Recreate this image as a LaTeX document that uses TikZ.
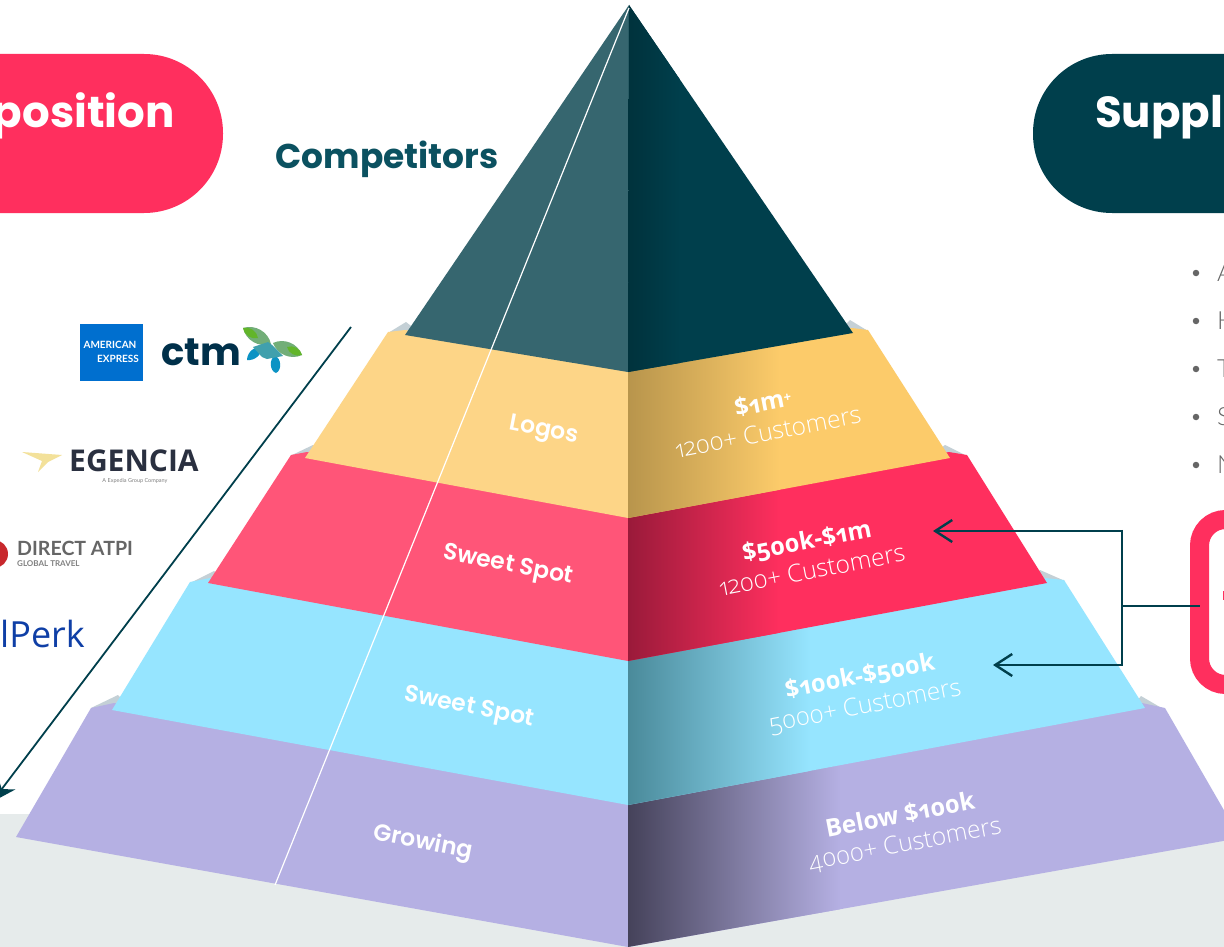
\documentclass[tikz,border=0pt]{standalone}
\usepackage{fontspec}
\usetikzlibrary{arrows.meta}
\setmainfont{Lato}
\newfontfamily\lightf{Lato Light}
\newfontfamily\headf{Poppins}
\newfontfamily\labf{Poppins SemiBold}
\newfontfamily\numf[Numbers=OldStyle]{Open Sans}
\newfontfamily\numl[Numbers=OldStyle]{Open Sans Light}
\definecolor{teal}{HTML}{003F4C}
\definecolor{tealD}{HTML}{00323C}
\definecolor{tealL}{HTML}{36666F}
\definecolor{tealT}{HTML}{0B5160}
\definecolor{hot}{HTML}{FF2F5E}
\definecolor{hotL}{HTML}{FF5578}
\definecolor{hotD}{HTML}{9A1A3A}
\definecolor{yelL}{HTML}{FDD587}
\definecolor{yelR}{HTML}{FCCB6A}
\definecolor{yelD}{HTML}{B8954C}
\definecolor{bluL}{HTML}{96E5FF}
\definecolor{bluD}{HTML}{4A8A9A}
\definecolor{pur}{HTML}{B5B0E3}
\definecolor{purD}{HTML}{45425A}
\definecolor{floorc}{HTML}{E6EBEB}
\definecolor{notch}{HTML}{C4D0D6}
\definecolor{bodyg}{HTML}{666666}
\definecolor{amex}{HTML}{006FCF}
\definecolor{ctmc}{HTML}{00304A}
\definecolor{leafg}{HTML}{62B52A}
\definecolor{leafb}{HTML}{0C93C4}
\definecolor{leafm}{HTML}{72AE78}
\definecolor{leaft}{HTML}{40A0AD}
\definecolor{swoosh}{HTML}{F3E19A}
\definecolor{egc}{HTML}{2A3040}
\definecolor{atpi}{HTML}{C8282D}
\definecolor{perkc}{HTML}{0F3FA6}
\tikzset{
  x=1pt,y=-1pt,
  leftlab/.style={text=white,font=\labf\fontsize{23.5}{23.5}\selectfont,rotate=-11,inner sep=0},
  toplab/.style={text=white,font=\numf\bfseries\fontsize{24.5}{24.5}\selectfont,rotate=11,inner sep=0},
  sublab/.style={text=white,font=\numl\fontsize{24.5}{24.5}\selectfont,rotate=11,inner sep=0},
  link/.style={draw=teal,line width=2.4pt},
  barb/.style={-{Straight Barb[length=17pt,width=22pt,line width=2.4pt]}},
  pilltext/.style={text=white,font=\headf\bfseries\fontsize{43.5}{43.5}\selectfont,inner sep=0},
  bullet/.style={circle,fill=bodyg,minimum size=6.5pt,inner sep=0},
  clipped/.style={text=bodyg,font=\lightf\fontsize{25}{25}\selectfont,inner sep=0,anchor=west},
  notchf/.style={fill=notch},
}
\newcommand{\sidegrad}[4]{%
  \begin{scope}\clip #1;\shade[left color=#2,right color=#3] (628,0) rectangle (#4,947);\end{scope}}
\newcommand{\leaf}[4]{\fill[#3] (#1) to[bend left=#4] (#2) to[bend left=#4] (#1);}
\begin{document}
\begin{tikzpicture}
\clip (0,0) rectangle (1224,947);
\fill[white] (0,0) rectangle (1224,947);
\fill[floorc] (0,814) rectangle (1224,947);

% pills
\fill[hot,rounded corners=79pt] (-160,54) rectangle (223,213);
\node[pilltext,anchor=base east] (pos) at (175,128) {position};
\fill[teal,rounded corners=79pt] (1033,54) rectangle (1400,213);
\node[pilltext,anchor=base west] (sup) at (1095,128) {Suppl};
\node[text=tealT,font=\headf\bfseries\fontsize{34.4}{34.4}\selectfont,inner sep=0] (comp) at (387,159) {Competitors};

% notches
\fill[notchf] (388,333) -- (406,322) -- (420,333) -- cycle;
\fill[notchf] (868,331) -- (850,320) -- (838,333) -- cycle;
\fill[notchf] (290,456) -- (313,445) -- (325,456) -- cycle;
\fill[notchf] (967,456) -- (945,445) -- (930,456) -- cycle;
\fill[notchf] (190,583) -- (214,571) -- (228,584) -- cycle;
\fill[notchf] (1065,581) -- (1040,570) -- (1028,584) -- cycle;
\fill[notchf] (91,708) -- (118,695) -- (130,708) -- cycle;
\fill[notchf] (1165,710) -- (1141,696) -- (1130,710) -- cycle;

% tiers, bottom first; each top edge runs on beneath the tier above it
\fill[pur] (91,708) -- (114,703) -- (628,795) -- (628,947) -- (16,837) -- cycle;
\fill[pur] (628,795) -- (1142,703) -- (1165,708) -- (1240,838) -- (628,947) -- cycle;
\sidegrad{(628,795) -- (1142,703) -- (1165,708) -- (1240,838) -- (628,947) -- cycle}{purD}{pur}{840}
\fill[bluL] (190,582) -- (210,578) -- (628,650) -- (628,805) -- (112,710) -- cycle;
\fill[bluL] (628,650) -- (1045,578) -- (1064,580) -- (1145,708) -- (628,805) -- cycle;
\begin{scope}\clip (628,650) -- (1045,578) -- (1064,580) -- (1145,708) -- (628,805) -- cycle;
\shade[left color=bluD,middle color=bluD!35!bluL,right color=bluL] (628,0) rectangle (810,947);\end{scope}
\fill[hotL] (291,455) -- (307,452) -- (628,508) -- (628,661) -- (208,583) -- cycle;
\fill[hot] (628,508) -- (949,452) -- (967,455) -- (1047,583) -- (628,661) -- cycle;
\sidegrad{(628,508) -- (949,452) -- (967,455) -- (1047,583) -- (628,661) -- cycle}{hotD}{hot}{780}
\fill[yelL] (388,332) -- (405,330) -- (628,362) -- (628,518) -- (305,458) -- cycle;
\fill[yelR] (628,362) -- (852,328) -- (868,330) -- (950,458) -- (628,518) -- cycle;
\sidegrad{(628,362) -- (852,328) -- (868,330) -- (950,458) -- (628,518) -- cycle}{yelD}{yelR}{780}
\fill[tealL] (629,5) -- (628,372) -- (405,335) -- cycle;
\fill[teal] (629,5) -- (853,333) -- (628,372) -- cycle;
\begin{scope}\clip (629,5) -- (853,333) -- (628,372) -- cycle;
\shade[left color=tealD,right color=teal] (628,0) rectangle (680,380);\end{scope}

% tier labels
\node[leftlab] (l1) at (544,431) {Logos};
\node[leftlab] (l2) at (508,566) {Sweet Spot};
\node[leftlab] (l3) at (469,708) {Sweet Spot};
\node[leftlab] (l4) at (423,843) {Growing};
\node[toplab] (r1) at (763,403) {\$1m\raisebox{5pt}{\fontsize{13}{13}\selectfont+}};
\node[sublab] (s1) at (768,432) {1200+ Customers};
\node[toplab] (r2) at (807,542) {\$500k-\$1m};
\node[sublab] (s2) at (812,570) {1200+ Customers};
\node[toplab] (r3) at (860,677) {\$100k-\$500k};
\node[sublab] (s3) at (865,707) {5000+ Customers};
\node[toplab] (r4) at (900,815) {Below \$100k};
\node[sublab] (s4) at (905,845) {4000+ Customers};

% thin white rule and long arrow
\coordinate (apex) at (629,8);
\coordinate (foot) at (275,885);
\draw[white,line width=1.2pt] (apex) -- (foot);
\coordinate (arrS) at (351,327);
\coordinate (arrE) at (-8,802);
\draw[teal,line width=1.8pt,-{Stealth[length=24pt,width=22pt]}] (arrS) -- (arrE);

% logos
\fill[hot] (1222.5,591) rectangle (1224,600);
\fill[amex] (80,324) rectangle (143,381);
\node[text=white,font=\bfseries\fontsize{10}{10}\selectfont,inner sep=0] (amex1) at (110,345) {AMERICAN};
\node[text=white,font=\bfseries\fontsize{10}{10}\selectfont,inner sep=0] (amex2) at (118,359) {EXPRESS};
\node[text=ctmc,inner sep=0,anchor=base west,font=\headf\bfseries\fontsize{38.5}{38.5}\selectfont] (ctm) at (161,365) {ctm};
\leaf{243,328}{271,344}{leafm}{48}
\leaf{243,328}{258,338}{leafg}{48}
\leaf{302,355}{273,343}{leafm}{48}
\leaf{302,355}{287,347}{leafg}{48}
\leaf{247,360}{262,347}{leafb}{48}
\leaf{276,373}{275,356}{leafb}{70}
\fill[leaft] (253,347) -- (268,342) -- (272,345) -- (283,356) -- (267,359) -- (262,357) -- cycle;
\fill[swoosh] (22,452) -- (62,455) -- (48,462) -- (38,472) -- (42,461) -- cycle;
\node[text=egc,inner sep=0,anchor=west,font=\numf\bfseries\fontsize{30}{30}\selectfont] (eg) at (69,461) {EGENCIA};
\node[inner sep=0,font=\fontsize{5.5}{5.5}\selectfont,text=gray] (eg2) at (135,481) {A Expedia Group Company};
\fill[atpi] (-6,554) circle[radius=14];
\node[inner sep=0,anchor=west,font=\bfseries\fontsize{19.6}{19.6}\selectfont,text=bodyg] (datp) at (17,548) {DIRECT ATPI};
\node[inner sep=0,anchor=west,font=\bfseries\fontsize{8}{8}\selectfont,text=gray] (datp2) at (17,564) {GLOBAL TRAVEL};
\node[inner sep=0,anchor=base east,font=\numf\fontsize{36}{36}\selectfont,text=perkc] (perk) at (85,647) {lPerk};

% right column
\foreach \y/\t/\n in {273/A/b1,321/H/b2,369/T/b3,417/S/b4,465/N/b5}{
  \node[bullet] (\n) at (1196,\y) {};
  \node[clipped] (\n t) at (1217,\y) {\t};
}

% red box and connectors
\node[draw=hot,line width=19pt,rounded corners=26pt,minimum width=80pt,minimum height=165pt,inner sep=0,outer sep=0,anchor=west] (box) at (1199.5,602) {};
\coordinate (j1) at (1122,531);
\coordinate (j2) at (1122,665);
\coordinate (jm) at (1122,606);
\coordinate (t1) at (933,531);
\coordinate (t2) at (993,665);
\draw[link] (jm) -- (jm -| box.west);
\draw[link] ([yshift=1.2pt]j1) -- ([yshift=-1.2pt]j2);
\draw[link,barb] (j1) -- (t1);
\draw[link,barb] (j2) -- (t2);
\end{tikzpicture}
\end{document}
